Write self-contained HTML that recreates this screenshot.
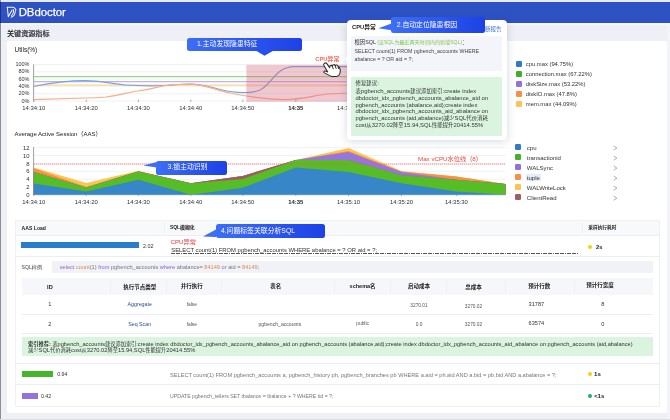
<!DOCTYPE html>
<html lang="zh">
<head>
<meta charset="utf-8">
<title>DBdoctor</title>
<style>
*{box-sizing:border-box;margin:0;padding:0}
html,body{width:670px;height:420px;overflow:hidden}
body{position:relative;background:#eff0f5;font-family:"Liberation Sans","Noto Sans CJK SC",sans-serif;color:#333;-webkit-text-size-adjust:none}
.abs{position:absolute}
.t{position:absolute;white-space:nowrap;line-height:1}
.hdr{position:absolute;left:0;top:1.5px;width:670px;height:21px;background:#2e51c4}
.edgeL{position:absolute;left:0;top:0;width:1.1px;height:420px;background:#8d8f96}
.edgeB{position:absolute;left:0;top:419px;width:670px;height:1px;background:#dcdde3}
.topline{position:absolute;left:0;top:0;width:670px;height:1.5px;background:#e9ebf3}
.panel{position:absolute;left:6.5px;top:41px;width:660.6px;height:371.6px;background:#fff;border-radius:2px}
.co{position:absolute;border-radius:2.5px;background:linear-gradient(90deg,#3d6ef6,#1d41e6);color:#fff;font-size:6.85px}
.co span{position:absolute;white-space:nowrap;line-height:1}
svg{position:absolute;left:0;top:0;overflow:visible}
svg text{font-family:"Liberation Sans","Noto Sans CJK SC",sans-serif}
.k{font-size:0.92em}
.lg{position:absolute;width:6px;height:6px;border-radius:1.3px}
.tbl{position:absolute;left:15px;top:220px;width:644.5px;height:186.5px;border:0.7px solid #eef0f4;border-radius:1px}
.hl{position:absolute;background:#eceef3;height:0.7px}
.vl{position:absolute;background:#eef0f4;width:0.7px}
.pop{position:absolute;left:347px;top:20px;width:159.5px;height:119.8px;background:#fff;border-radius:4px;box-shadow:0 1px 8px rgba(60,70,110,.22)}
</style>
</head>
<body>
<div id="root" style="position:absolute;left:0;top:0;width:670px;height:420px;will-change:transform;filter:blur(0.35px)">
<div class="topline"></div>
<div class="hdr"></div>
<div class="abs" style="left:0;top:22.5px;width:670px;height:2.2px;background:#f7f8fb"></div>
<div class="abs" style="left:667.2px;top:24.7px;width:2.8px;height:396px;background:#f3f4f8"></div>

<!-- logo -->
<svg width="670" height="24" viewBox="0 0 670 24">
  <g fill="none" stroke="#fff" stroke-width="1.05" stroke-linejoin="round" stroke-linecap="round" opacity="0.95">
    <path d="M7.2,7.2 L13,7.3 C14.6,7.6 15.5,8.7 16,10 C15.5,10.5 15.3,11 15.2,11.7 C15,14 13.6,16.3 11.3,17.3"/>
    <path d="M7.3,7.3 L8.3,16.8 L12.1,9.9"/>
    <path d="M13.6,9.7 C13.8,12 13.2,14.3 11.5,16"/>
  </g>
</svg>
<div class="t" style="left:18.7px;top:6.9px;font-size:11.4px;color:#fff;letter-spacing:-0.05px;-webkit-text-stroke:0.25px #fff">DBdoctor</div>

<div class="t" style="left:7px;top:31.4px;font-size:7.1px;color:#1f2329;font-weight:500;-webkit-text-stroke:0.15px #1f2329">关键资源指标</div>

<div class="panel"></div>

<!-- ===================== chart 1 ===================== -->
<div class="t" style="left:14.5px;top:47.1px;font-size:6.5px;color:#222">Utils(%)</div>
<svg width="670" height="420" viewBox="0 0 670 420" font-size="5.9" fill="#333">
  <line x1="33.75" y1="64.5" x2="505.5" y2="64.5" stroke="#e6e8ef" stroke-width="0.6"/><line x1="33.75" y1="71.8" x2="505.5" y2="71.8" stroke="#e6e8ef" stroke-width="0.6"/><line x1="33.75" y1="79.1" x2="505.5" y2="79.1" stroke="#e6e8ef" stroke-width="0.6"/><line x1="33.75" y1="86.4" x2="505.5" y2="86.4" stroke="#e6e8ef" stroke-width="0.6"/><line x1="33.75" y1="93.7" x2="505.5" y2="93.7" stroke="#e6e8ef" stroke-width="0.6"/><line x1="33.75" y1="101" x2="505.5" y2="101" stroke="#e6e8ef" stroke-width="0.6"/>
  <line x1="33.6" y1="64.4" x2="33.6" y2="101.3" stroke="#777" stroke-width="0.7"/>
  <line x1="33.8" y1="99.6" x2="33.8" y2="101.9" stroke="#777" stroke-width="0.6"/><line x1="86.3" y1="99.6" x2="86.3" y2="101.9" stroke="#777" stroke-width="0.6"/><line x1="138.4" y1="99.6" x2="138.4" y2="101.9" stroke="#777" stroke-width="0.6"/><line x1="190.8" y1="99.6" x2="190.8" y2="101.9" stroke="#777" stroke-width="0.6"/><line x1="242.8" y1="99.6" x2="242.8" y2="101.9" stroke="#777" stroke-width="0.6"/><line x1="295.8" y1="99.6" x2="295.8" y2="101.9" stroke="#777" stroke-width="0.6"/><line x1="348.5" y1="99.6" x2="348.5" y2="101.9" stroke="#777" stroke-width="0.6"/><line x1="401.5" y1="99.6" x2="401.5" y2="101.9" stroke="#777" stroke-width="0.6"/><line x1="456.4" y1="99.6" x2="456.4" y2="101.9" stroke="#777" stroke-width="0.6"/>
  <text x="29.5" y="66.1" text-anchor="end" font-size="5.5">100%</text><text x="29.5" y="73.4" text-anchor="end" font-size="5.5">80%</text><text x="29.5" y="80.7" text-anchor="end" font-size="5.5">60%</text><text x="29.5" y="88.0" text-anchor="end" font-size="5.5">40%</text><text x="29.5" y="95.3" text-anchor="end" font-size="5.5">20%</text><text x="29.5" y="102.6" text-anchor="end" font-size="5.5">0%</text>
  <text x="33.8" y="110.2" text-anchor="middle">14:34:10</text><text x="86.3" y="110.2" text-anchor="middle">14:34:20</text><text x="138.4" y="110.2" text-anchor="middle">14:34:30</text><text x="190.8" y="110.2" text-anchor="middle">14:34:40</text><text x="242.8" y="110.2" text-anchor="middle">14:34:50</text><text x="295.8" y="110.2" text-anchor="middle" font-weight="bold" fill="#222">14:35</text><text x="348.5" y="110.2" text-anchor="middle">14:35:10</text><text x="401.5" y="110.2" text-anchor="middle">14:35:20</text><text x="456.4" y="110.2" text-anchor="middle">14:35:30</text>
  <!-- series -->
  <g fill="none" stroke-width="1.25">
    <path d="M33.75,76.6 L505.5,76.6" stroke="#98d885"/>
    <path d="M33.75,81.6 L505.5,81.6" stroke="#c4b0ee"/>
    <path d="M33.75,85.1 L505.5,85.1" stroke="#fbd688"/>
    <path d="M33.75,86.5 C50,83 70,80.6 86,80.6 C100,80.6 112,84 125,85 C140,86 150,86 166,85.5 C175,84.5 182,84 190,84 C205,84 215,89 230,91.5 C240,93 252,93.4 260,90 C272,84 276,66.8 294,66.6 L420,66.6" stroke="#7aa3dd"/>
    <path d="M33.75,99.7 C60,99 75,98.3 86,98 C95,97.8 100,97.5 106,97 C120,95 130,92 138,91 C150,89 160,86.5 166,85.5 C175,84.5 182,84 190,84 C205,84 215,90 230,93 C245,96 260,99.5 285,99.5 C300,99.5 312,96 327,94 L420,90" stroke="#fbab85"/>
  </g>
  <rect x="246.4" y="64.9" width="160" height="36.9" fill="#d46279" fill-opacity="0.35"/>
</svg>
<div class="t" style="left:315.2px;top:56.7px;font-size:5.9px;font-weight:bold;color:#ff6556">CPU异常</div>
<!-- hand cursor -->
<svg width="670" height="420" viewBox="0 0 670 420">
  <path d="M324.1,63.7 C324.5,62.7 326.1,62.6 326.8,63.6 L329.7,67.6 C329.5,65.4 331.6,64.7 332.3,66.2 C332.5,64.3 334.8,64.1 335.3,65.8 C335.9,64.5 337.9,64.9 338.1,66.5 C339.7,67.2 340.4,70 340.2,72 C340,74.4 338.6,76 336.4,76.4 L333,76.6 C331,76.6 329.4,75.6 327.8,74.6 L324.4,72.9 C323.2,72.1 324,70.6 325.4,71 L327.7,71.9 L323.8,65.3 C323.4,64.5 323.8,64.1 324.1,63.7 Z" fill="#fff" stroke="#2b2b2b" stroke-width="1.05" stroke-linejoin="round"/>
  <path d="M332.2,66.2 L333.4,69.2 M335.2,65.8 L336.2,68.8 M337.9,66.5 L338.6,69" stroke="#2b2b2b" stroke-width="0.95" fill="none"/>
</svg>

<!-- legend 1 -->
<div class="lg" style="left:515.6px;top:61.3px;background:#2f7bc9"></div>
<div class="lg" style="left:515.6px;top:71.3px;background:#3eae2b"></div>
<div class="lg" style="left:515.6px;top:81.4px;background:#9570dc"></div>
<div class="lg" style="left:515.6px;top:91.4px;background:#fa8e49"></div>
<div class="lg" style="left:515.6px;top:101.4px;background:#fbc355"></div>
<div class="t" style="left:525.8px;top:61.5px;font-size:5.83px;color:#333">cpu.max (94.75%)</div>
<div class="t" style="left:525.8px;top:71.5px;font-size:5.83px;color:#333">connection.max (67.22%)</div>
<div class="t" style="left:525.8px;top:81.6px;font-size:5.83px;color:#333">diskSize.max (53.22%)</div>
<div class="t" style="left:525.8px;top:91.6px;font-size:5.83px;color:#333">diskIO.max (47.8%)</div>
<div class="t" style="left:525.8px;top:101.6px;font-size:5.83px;color:#333">mem.max (44.09%)</div>

<!-- ===================== chart 2 ===================== -->
<div class="t" style="left:14.5px;top:131.2px;font-size:6.0px;color:#222">Average Active Session（AAS）</div>
<svg width="670" height="420" viewBox="0 0 670 420" font-size="5.9" fill="#333">
  <line x1="33.75" y1="147.6" x2="505.5" y2="147.6" stroke="#e6e8ef" stroke-width="0.6"/><line x1="33.75" y1="155.5" x2="505.5" y2="155.5" stroke="#e6e8ef" stroke-width="0.6"/><line x1="33.75" y1="163.4" x2="505.5" y2="163.4" stroke="#e6e8ef" stroke-width="0.6"/><line x1="33.75" y1="171.3" x2="505.5" y2="171.3" stroke="#e6e8ef" stroke-width="0.6"/><line x1="33.75" y1="179.2" x2="505.5" y2="179.2" stroke="#e6e8ef" stroke-width="0.6"/><line x1="33.75" y1="187.1" x2="505.5" y2="187.1" stroke="#e6e8ef" stroke-width="0.6"/><line x1="33.75" y1="195" x2="505.5" y2="195" stroke="#e6e8ef" stroke-width="0.6"/>
  <path d="M33.8,167.5 L86.3,183.0 L138.4,170.8 L190.8,183.2 L242.8,175.9 L295.8,160.1 L348.5,148.1 L401.5,171.0 L456.4,176.4 L505.5,184.0 L505.5,195 L33.8,195Z" fill="#fbc552"/>
<path d="M33.8,168.2 L86.3,187.0 L138.4,171.2 L190.8,183.2 L242.8,175.9 L295.8,160.1 L348.5,151.0 L401.5,171.4 L456.4,176.4 L505.5,184.0 L505.5,195 L33.8,195Z" fill="#fa8f45"/>
<path d="M33.8,171.9 L86.3,187.5 L138.4,171.6 L190.8,183.2 L242.8,175.9 L295.8,160.1 L348.5,152.1 L401.5,172.1 L456.4,179.7 L505.5,184.0 L505.5,195 L33.8,195Z" fill="#9875de"/>
<path d="M33.8,171.9 L86.3,187.5 L138.4,171.6 L190.8,183.2 L242.8,175.9 L295.8,160.1 L348.5,160.1 L401.5,175.2 L456.4,179.7 L505.5,184.0 L505.5,195 L33.8,195Z" fill="#a0595c"/>
<path d="M33.8,171.9 L86.3,187.5 L138.4,171.6 L190.8,183.2 L242.8,178.9 L295.8,160.1 L348.5,160.1 L401.5,175.2 L456.4,179.7 L505.5,184.0 L505.5,195 L33.8,195Z" fill="#56bd27"/>
<path d="M33.8,183.5 L86.3,191.6 L138.4,179.7 L190.8,194.7 L242.8,187.7 L295.8,167.6 L348.5,172.1 L401.5,183.2 L456.4,191.5 L505.5,194.7 L505.5,195 L33.8,195Z" fill="#3686c8"/>
  <line x1="33.6" y1="147" x2="33.6" y2="195.3" stroke="#777" stroke-width="0.7"/>
  <line x1="33.75" y1="195" x2="505.5" y2="195" stroke="#c8cad2" stroke-width="0.5"/>
  <line x1="33.8" y1="193.6" x2="33.8" y2="195.9" stroke="#777" stroke-width="0.6"/><line x1="86.3" y1="193.6" x2="86.3" y2="195.9" stroke="#777" stroke-width="0.6"/><line x1="138.4" y1="193.6" x2="138.4" y2="195.9" stroke="#777" stroke-width="0.6"/><line x1="190.8" y1="193.6" x2="190.8" y2="195.9" stroke="#777" stroke-width="0.6"/><line x1="242.8" y1="193.6" x2="242.8" y2="195.9" stroke="#777" stroke-width="0.6"/><line x1="295.8" y1="193.6" x2="295.8" y2="195.9" stroke="#777" stroke-width="0.6"/><line x1="348.5" y1="193.6" x2="348.5" y2="195.9" stroke="#777" stroke-width="0.6"/><line x1="401.5" y1="193.6" x2="401.5" y2="195.9" stroke="#777" stroke-width="0.6"/><line x1="456.4" y1="193.6" x2="456.4" y2="195.9" stroke="#777" stroke-width="0.6"/>
  <text x="29.5" y="149.7" text-anchor="end">12</text><text x="29.5" y="157.6" text-anchor="end">10</text><text x="29.5" y="165.5" text-anchor="end">8</text><text x="29.5" y="173.4" text-anchor="end">6</text><text x="29.5" y="181.3" text-anchor="end">4</text><text x="29.5" y="189.2" text-anchor="end">2</text><text x="29.5" y="197.1" text-anchor="end">0</text>
  <text x="33.8" y="203.9" text-anchor="middle">14:34:10</text><text x="86.3" y="203.9" text-anchor="middle">14:34:20</text><text x="138.4" y="203.9" text-anchor="middle">14:34:30</text><text x="190.8" y="203.9" text-anchor="middle">14:34:40</text><text x="242.8" y="203.9" text-anchor="middle">14:34:50</text><text x="295.8" y="203.9" text-anchor="middle" font-weight="bold" fill="#222">14:35</text><text x="348.5" y="203.9" text-anchor="middle">14:35:10</text><text x="401.5" y="203.9" text-anchor="middle">14:35:20</text><text x="456.4" y="203.9" text-anchor="middle">14:35:30</text>
  <line x1="33.75" y1="164.1" x2="505.5" y2="164.1" stroke="#f25a5a" stroke-width="0.8" stroke-dasharray="1.2 0.8"/>
</svg>
<div class="t" style="left:418px;top:156.1px;font-size:6.2px;color:#f0453f">Max vCPU水位线（8）</div>

<!-- legend 2 -->
<div class="lg" style="left:515.1px;top:144.1px;background:#2f7bc9"></div>
<div class="lg" style="left:515.1px;top:154.1px;background:#45b02a"></div>
<div class="lg" style="left:515.1px;top:164.1px;background:#9570dc"></div>
<div class="lg" style="left:515.1px;top:174.2px;background:#fa8e49"></div>
<div class="lg" style="left:515.1px;top:184.2px;background:#fbc355"></div>
<div class="lg" style="left:515.1px;top:194.2px;background:#a15d60"></div>
<div class="abs" style="left:526px;top:174px;width:14.6px;height:7.4px;background:#e4edfa"></div>
<div class="t" style="left:526.8px;top:145.0px;font-size:6.02px;color:#333">cpu</div>
<div class="t" style="left:526.8px;top:155.2px;font-size:6.02px;color:#333">transactionid</div>
<div class="t" style="left:526.8px;top:165.3px;font-size:6.02px;color:#333">WALSync</div>
<div class="t" style="left:526.8px;top:175.3px;font-size:6.02px;color:#333">tuple</div>
<div class="t" style="left:526.8px;top:185.3px;font-size:6.02px;color:#333">WALWriteLock</div>
<div class="t" style="left:526.8px;top:195.3px;font-size:6.02px;color:#333">ClientRead</div>

<svg width="670" height="420" viewBox="0 0 670 420"><g fill="none" stroke="#8a8d94" stroke-width="0.7"><path d="M613.7,146.0 L616.9,148.1 L613.7,150.2"/><path d="M613.7,156.0 L616.9,158.1 L613.7,160.2"/><path d="M613.7,166.0 L616.9,168.1 L613.7,170.2"/><path d="M613.7,176.1 L616.9,178.2 L613.7,180.3"/><path d="M613.7,186.1 L616.9,188.2 L613.7,190.3"/><path d="M613.7,196.1 L616.9,198.2 L613.7,200.3"/></g></svg>
<!-- ===================== table ===================== -->
<div class="tbl"></div>
<div class="abs" style="left:15.7px;top:220.7px;width:643px;height:14.4px;background:#f8f9fb"></div>
<div class="hl" style="left:15px;top:235px;width:644.5px"></div>
<div class="hl" style="left:15px;top:256.3px;width:644.5px"></div>
<div class="hl" style="left:15px;top:362.6px;width:644.5px"></div>
<div class="hl" style="left:15px;top:384.1px;width:644.5px"></div>
<div class="vl" style="left:163.7px;top:222.5px;height:10px"></div>
<div class="vl" style="left:581.5px;top:222.5px;height:10px"></div>
<div class="t" style="left:21.6px;top:226.4px;font-size:5.1px;color:#222;font-weight:bold">AAS Load</div>
<div class="t" style="left:170px;top:226.3px;font-size:4.9px;color:#222;font-weight:bold">SQL模糊化</div>
<div class="t" style="left:588.3px;top:226.2px;font-size:4.7px;color:#222;font-weight:bold">采样执行耗时</div>

<div class="abs" style="left:21.3px;top:242.4px;width:118px;height:6px;background:#2a7dc8"></div>
<div class="t" style="left:142.9px;top:243.5px;font-size:5.4px;color:#333">2.02</div>
<div class="t" style="left:170.5px;top:238.9px;font-size:6.2px;color:#f0353a">CPU异常</div>
<div class="t" style="left:171.3px;top:248.1px;font-size:5.86px;color:#333">SELECT count(1) FROM pgbench_accounts WHERE abalance = ? OR aid = ?;</div>
<div class="abs" style="left:171.3px;top:252.9px;width:407.7px;height:0.7px;background:repeating-linear-gradient(90deg,#555 0,#555 1.7px,transparent 1.7px,transparent 2.4px)"></div>
<div class="abs" style="left:588.2px;top:244.5px;width:4.2px;height:4.2px;border-radius:50%;background:#f4d20a"></div>
<div class="t" style="left:596px;top:244.7px;font-size:5.8px;color:#222;font-weight:bold">2s</div>

<div class="t" style="left:21.6px;top:265px;font-size:5.1px;color:#444">SQL样例</div>
<div class="abs" style="left:52.2px;top:261.4px;width:600.6px;height:11.3px;background:#f1f2f8;border-radius:1.5px"></div>
<div class="t" style="left:59.7px;top:265px;font-size:5.63px;color:#777"><span style="color:#8a63d2">select</span> <span style="color:#d98a52">count</span>(1) <span style="color:#8a63d2">from</span> pgbench_accounts <span style="color:#8a63d2">where</span> abalance= <span style="color:#d98a52">84149</span> <span style="color:#8a63d2">or</span> aid = <span style="color:#d98a52">84149</span>;</div>

<!-- inner plan table -->
<div class="abs" style="left:21.6px;top:277.7px;width:631.2px;height:17.6px;background:#f6f7fa"></div>
<div class="hl" style="left:21.6px;top:314.4px;width:631.2px"></div>
<div class="hl" style="left:21.6px;top:333.2px;width:631.2px"></div>
<div class="vl" style="left:109.5px;top:281px;height:11px"></div>
<div class="vl" style="left:165.5px;top:281px;height:11px"></div>
<div class="vl" style="left:221.4px;top:281px;height:11px"></div>
<div class="vl" style="left:334px;top:281px;height:11px"></div>
<div class="vl" style="left:390px;top:281px;height:11px"></div>
<div class="vl" style="left:446px;top:281px;height:11px"></div>
<div class="vl" style="left:505px;top:281px;height:11px"></div>
<div class="vl" style="left:574px;top:281px;height:11px"></div>
<div class="t c" style="left:49.9px;top:285.4px;font-size:5.6px;color:#222;font-weight:bold;transform:translateX(-50%)">ID</div>
<div class="t c" style="left:139.7px;top:284.6px;font-size:5.5px;color:#222;font-weight:bold;transform:translateX(-50%)">执行节点类型</div>
<div class="t c" style="left:191.8px;top:284.2px;font-size:5.5px;color:#222;font-weight:bold;transform:translateX(-50%)">并行执行</div>
<div class="t c" style="left:275.8px;top:284.4px;font-size:5.5px;color:#222;font-weight:bold;transform:translateX(-50%)">表名</div>
<div class="t c" style="left:362.6px;top:284.2px;font-size:5.5px;color:#222;font-weight:bold;transform:translateX(-50%)">schema名</div>
<div class="t c" style="left:419px;top:284.4px;font-size:5.5px;color:#222;font-weight:bold;transform:translateX(-50%)">启动成本</div>
<div class="t c" style="left:473.5px;top:284.6px;font-size:5.5px;color:#222;font-weight:bold;transform:translateX(-50%)">总成本</div>
<div class="t c" style="left:539.2px;top:284.0px;font-size:5.5px;color:#222;font-weight:bold;transform:translateX(-50%)">预计行数</div>
<div class="t c" style="left:599.9px;top:283.0px;font-size:5.5px;color:#222;font-weight:bold;transform:translateX(-50%)">预计行宽度</div>

<div class="t" style="left:49.9px;top:302.0px;font-size:5.6px;color:#333;transform:translateX(-50%)">1</div>
<div class="t" style="left:139.7px;top:302.1px;font-size:5.3px;color:#2b4f8f;transform:translateX(-50%)">Aggregate</div>
<div class="t" style="left:191.8px;top:303.3px;font-size:4.9px;color:#555;transform:translateX(-50%)">false</div>
<div class="t" style="left:419px;top:304.3px;font-size:4.8px;color:#555;transform:translateX(-50%)">3270.01</div>
<div class="t" style="left:473.5px;top:304.9px;font-size:4.8px;color:#555;transform:translateX(-50%)">3270.02</div>
<div class="t" style="left:536.4px;top:301.7px;font-size:5.6px;color:#333;transform:translateX(-50%)">31787</div>
<div class="t" style="left:602.9px;top:301.7px;font-size:5.6px;color:#333;transform:translateX(-50%)">8</div>

<div class="t" style="left:49.9px;top:321.6px;font-size:5.6px;color:#333;transform:translateX(-50%)">2</div>
<div class="t" style="left:139.7px;top:321.9px;font-size:5.3px;color:#2b4f8f;transform:translateX(-50%)">Seq Scan</div>
<div class="t" style="left:191.8px;top:323.1px;font-size:4.9px;color:#555;transform:translateX(-50%)">false</div>
<div class="t" style="left:279.9px;top:322.0px;font-size:5.1px;color:#555;transform:translateX(-50%)">pgbench_accounts</div>
<div class="t" style="left:362.6px;top:322.1px;font-size:4.9px;color:#555;transform:translateX(-50%)">public</div>
<div class="t" style="left:419px;top:323.2px;font-size:4.8px;color:#555;transform:translateX(-50%)">0.0</div>
<div class="t" style="left:473.5px;top:322.8px;font-size:4.8px;color:#555;transform:translateX(-50%)">3270.02</div>
<div class="t" style="left:536.4px;top:321.1px;font-size:5.6px;color:#333;transform:translateX(-50%)">63574</div>
<div class="t" style="left:602.9px;top:321.7px;font-size:5.6px;color:#333;transform:translateX(-50%)">0</div>

<div class="abs" style="left:21.6px;top:337.1px;width:631.2px;height:19.3px;background:#daf4df;border-radius:1px"></div>
<div class="t mx" style="left:28.1px;top:341.5px;font-size:5.67px;color:#333"><b><span class="k">索引推荐</span>:</b> <span class="k">表</span>pgbench_accounts<span class="k">建议添加索引</span>:create index dbdoctor_idx_pgbench_accounts_abalance_aid on pgbench_accounts (abalance,aid);create index dbdoctor_idx_pgbench_accounts_aid_abalance on pgbench_accounts (aid,abalance)</div>
<div class="t mx" style="left:28.1px;top:348px;font-size:5.72px;color:#333"><span class="k">减少</span>SQL<span class="k">代价消耗</span>cost<span class="k">从</span>3270.02<span class="k">降至</span>15.94,SQL<span class="k">性能提升</span>20414.55%</div>

<div class="abs" style="left:21.6px;top:371.2px;width:31.8px;height:5.5px;background:#45b529"></div>
<div class="t" style="left:57.2px;top:372.3px;font-size:5.3px;color:#333">0.94</div>
<div class="t" style="left:170px;top:372.6px;font-size:5.63px;color:#777">SELECT count(1) FROM pgbench_accounts a, pgbench_history ph, pgbench_branches pb WHERE a.aid = ph.aid AND a.bid = pb.bid AND a.abalance = ?;</div>
<div class="abs" style="left:587.6px;top:372.2px;width:4.2px;height:4.2px;border-radius:50%;background:#f4d20a"></div>
<div class="t" style="left:594px;top:371.2px;font-size:6.1px;color:#222;font-weight:bold">1s</div>

<div class="abs" style="left:21.6px;top:393px;width:16px;height:5.5px;background:#9571dc"></div>
<div class="t" style="left:40.9px;top:394px;font-size:5.3px;color:#333">0.42</div>
<div class="t" style="left:170px;top:393.5px;font-size:5.2px;color:#777">UPDATE pgbench_tellers SET tbalance = tbalance + ? WHERE tid = ?;</div>
<div class="abs" style="left:587.6px;top:394px;width:4.2px;height:4.2px;border-radius:50%;background:#1db26a"></div>
<div class="t" style="left:594px;top:393.4px;font-size:6.1px;color:#222;font-weight:bold">&lt;1s</div>

<!-- ===================== callouts ===================== -->
<div class="co" style="left:187px;top:37.5px;width:115px;height:13.1px"><span style="left:10px;top:3.2px">1.主动发现隐患特征</span></div>
<svg width="670" height="420" viewBox="0 0 670 420">
  <defs>
    <linearGradient id="g1" gradientUnits="userSpaceOnUse" x1="187" y1="0" x2="302" y2="0"><stop offset="0" stop-color="#3d6ef6"/><stop offset="1" stop-color="#1d41e6"/></linearGradient>
  </defs>
  <path d="M255.2,50.3 L274,50.3 L264.5,55.8 Z" fill="url(#g1)"/>
  <path d="M156.8,161.9 L143.2,165.6 L156.8,167.5 Z" fill="#3d6ef6"/>
  <path d="M216,229.4 L203,236.6 L216,236.9 Z" fill="#3d6ef6"/>
</svg>
<div class="co" style="left:156.3px;top:160.6px;width:71px;height:14.1px"><span style="left:11.3px;top:3.6px">3.锁主动识别</span></div>
<div class="co" style="left:215.7px;top:223.8px;width:109.3px;height:14.3px"><span style="left:5.2px;top:3.9px">4.问题标签关联分析SQL</span></div>

<!-- ===================== popup ===================== -->
<div class="pop"></div>
<svg width="670" height="420" viewBox="0 0 670 420">
  <path d="M347.3,56.6 L345.2,58.9 L347.3,61.2 Z" fill="#fff"/>
  <path d="M391.5,23.5 L378.4,28.3 L391.5,30.2 Z" fill="#3d6ef6"/>
</svg>
<div class="t" style="left:352px;top:25.3px;font-size:5.8px;font-weight:bold;color:#222">CPU异常</div>
<div class="t" style="left:479.6px;top:26.6px;font-size:5.5px;color:#3d6fe0">诊断报告</div>
<div class="co" style="left:391px;top:16.7px;width:94px;height:16px"><span style="left:5.7px;top:5.3px;font-size:6.85px">2.自动定位隐患根因</span></div>
<div class="abs" style="left:351.3px;top:36.3px;width:150.4px;height:35px;background:#f4f5fa;border-radius:1.5px"></div>
<div class="t" style="left:354.5px;top:39.9px;font-size:5.35px;color:#333">根因SQL <span style="color:#7fc64b;font-size:5.1px">(该SQL为最近两天时间内的新增SQL)</span>：</div>
<div class="t" style="left:354.5px;top:49.4px;font-size:5.26px;color:#444">SELECT count(1) FROM pgbench_accounts WHERE</div>
<div class="t" style="left:354.5px;top:56.9px;font-size:5.26px;color:#444">abalance = ? OR aid = ?;</div>
<div class="abs" style="left:351.3px;top:77px;width:150.4px;height:58.7px;background:#daf4df;border-radius:1.5px"></div>
<div class="t mx" style="left:355.5px;top:81.2px;font-size:5.89px;color:#363636"><span class="k">修复建议</span>:</div>
<div class="t mx" style="left:355.5px;top:89.0px;font-size:5.89px;color:#363636"><span class="k">表</span>pgbench_accounts<span class="k">建议添加索引</span>:create index</div>
<div class="t mx" style="left:355.5px;top:95.7px;font-size:5.89px;color:#363636">dbdoctor_idx_pgbench_accounts_abalance_aid on</div>
<div class="t mx" style="left:355.5px;top:102.5px;font-size:5.89px;color:#363636">pgbench_accounts (abalance,aid);create index</div>
<div class="t mx" style="left:355.5px;top:109.3px;font-size:5.89px;color:#363636">dbdoctor_idx_pgbench_accounts_aid_abalance on</div>
<div class="t mx" style="left:355.5px;top:116.0px;font-size:5.89px;color:#363636">pgbench_accounts (aid,abalance)<span class="k">减少</span>SQL<span class="k">代价消耗</span></div>
<div class="t mx" style="left:355.5px;top:122.8px;font-size:5.89px;color:#363636">cost<span class="k">从</span>3270.02<span class="k">降至</span>15.94,SQL<span class="k">性能提升</span>20414.55%</div>

<div class="edgeL"></div><div class="abs" style="left:0;top:1.5px;width:1.1px;height:21px;background:#1d3078"></div>
<div class="edgeB"></div>
</div>
</body>
</html>
